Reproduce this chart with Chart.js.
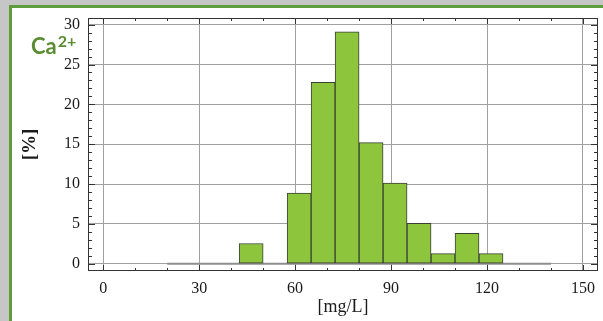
<!DOCTYPE html>
<html>
<head>
<meta charset="utf-8">
<script src="https://cdn.jsdelivr.net/npm/chart.js@4"></script>
<style>
  html, body { margin: 0; padding: 0; background: #c6c6c6; overflow: hidden; }
  #panel { position: absolute; left: 9px; top: 5px; width: 640px; height: 360px; background: #fff;
           border-left: 3px solid #5e9c3c; border-top: 3px solid #5e9c3c; }
  #wrap { position: absolute; left: 0; top: 0; width: 603px; height: 321px; }
  #ion { position: absolute; left: 31px; top: 35px; font: bold 22px Lato, sans-serif; line-height: 22px; color: #5a8c32; white-space: nowrap; }
  #ion .sup { position: relative; top: -7px; font-size: 16px; margin-left: 1px; }
</style>
</head>
<body>
<div id="panel"></div>
<div id="wrap"><canvas id="histChart" width="603" height="321"></canvas></div>
<div id="ion">Ca<span class="sup">2+</span></div>
<script>
// Histogram of Ca2+ concentration, share of samples per 7.5 mg/L bin
const binWidth = 7.5;
const binStarts = [20, 27.5, 35, 42.5, 50, 57.5, 65, 72.5, 80, 87.5, 95, 102.5, 110, 117.5, 125, 132.5];
const percents = [0, 0, 0, 2.53, 0, 8.86, 22.78, 29.11, 15.19, 10.13, 5.06, 1.27, 3.80, 1.27, 0, 0];
const xTicks = [0, 30, 60, 90, 120, 150];
const yTicks = [0, 5, 10, 15, 20, 25, 30];
const xMinorStep = 10;
const yMinorStep = 1;

const bars = binStarts.map((s, i) => ({ x: s + binWidth / 2, y: percents[i] }));
const baseLine = [
    { x: binStarts[0], y: 0 },
    { x: binStarts[binStarts.length - 1] + binWidth, y: 0 }
];

// frame around the plot plus inward tick marks on all four sides
const frameTicks = {
    id: 'frameTicks',
    afterDatasetsDraw(chart) {
        const { ctx, chartArea: a, scales: { x, y } } = chart;
        ctx.save();
        ctx.strokeStyle = '#333333';
        ctx.lineWidth = 1;
        ctx.beginPath();
        for (let v = xTicks[0]; v <= xTicks[xTicks.length - 1]; v += xMinorStep) {
            const px = Math.round(x.getPixelForValue(v)) + 0.5;
            const len = xTicks.includes(v) ? 6 : 3;
            ctx.moveTo(px, a.top); ctx.lineTo(px, a.top + len);
            ctx.moveTo(px, a.bottom); ctx.lineTo(px, a.bottom - len);
        }
        for (let v = yTicks[0]; v <= yTicks[yTicks.length - 1]; v += yMinorStep) {
            const py = Math.round(y.getPixelForValue(v)) + 0.5;
            const len = yTicks.includes(v) ? 7 : 4;
            ctx.moveTo(a.left, py); ctx.lineTo(a.left + len, py);
            ctx.moveTo(a.right, py); ctx.lineTo(a.right - len, py);
        }
        ctx.stroke();
        ctx.strokeRect(a.left + 0.5, a.top + 0.5, a.right - a.left - 1, a.bottom - a.top - 1);
        ctx.restore();
    }
};

new Chart(document.getElementById('histChart'), {
    type: 'bar',
    data: {
        datasets: [{
            label: 'Ca2+',
            data: bars,
            backgroundColor: '#8dc63c',
            borderColor: '#3a3f36',
            borderWidth: 1,
            borderSkipped: false,
            barPercentage: 1,
            categoryPercentage: 1,
            order: 0
        }, {
            type: 'line',
            data: baseLine,
            borderColor: '#8e8e8e',
            borderWidth: 2,
            pointRadius: 0,
            order: 1
        }]
    },
    options: {
        responsive: false,
        animation: false,
        layout: { padding: { left: 0, top: 18, right: 1, bottom: 0 } },
        plugins: { legend: { display: false }, tooltip: { enabled: false } },
        scales: {
            x: {
                type: 'linear',
                min: -4.76,
                max: 154.7,
                offset: false,
                afterFit: s => { s.height = 50; },
                afterBuildTicks: s => { s.ticks = xTicks.map(v => ({ value: v })); },
                grid: { offset: false, color: '#a0a0a0', lineWidth: 1, drawTicks: false },
                border: { display: false },
                ticks: { padding: 8, color: '#1a1a1a', font: { family: 'Liberation Serif', size: 16 }, maxRotation: 0 },
                title: { display: true, text: '[mg/L]', color: '#1a1a1a',
                         font: { family: 'Liberation Serif', size: 18 }, padding: { top: 0, bottom: 3 } }
            },
            y: {
                min: -0.92,
                max: 30.84,
                afterFit: s => { s.width = 88; },
                afterBuildTicks: s => { s.ticks = yTicks.map(v => ({ value: v })); },
                grid: { color: '#a0a0a0', lineWidth: 1, drawTicks: false },
                border: { display: false },
                ticks: { padding: 8, color: '#1a1a1a', font: { family: 'Liberation Serif', size: 16 } },
                title: { display: true, text: '[%]', color: '#1a1a1a',
                         font: { family: 'Liberation Serif', size: 19, weight: 'bold' }, padding: { top: 18.6, bottom: 0 } }
            }
        }
    },
    plugins: [frameTicks]
});
</script>
</body>
</html>
